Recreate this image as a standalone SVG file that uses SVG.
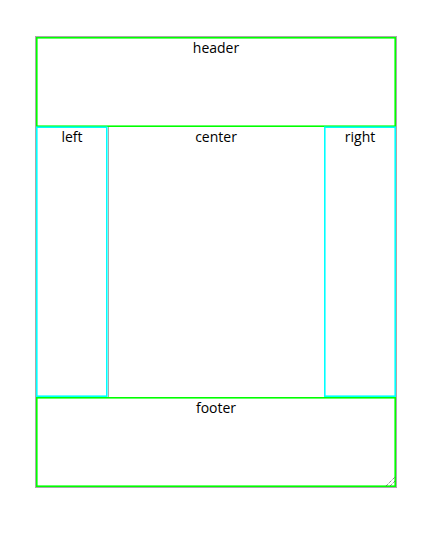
<svg xmlns="http://www.w3.org/2000/svg" width="445" height="533" viewBox="0 0 445 533">
<style>
text{font-family:"Open Sans","Noto Sans","Liberation Sans",sans-serif;font-size:14px;fill:#000;text-anchor:middle}
.g{fill:none;stroke:#00ff00;stroke-width:1.6}
.c{fill:none;stroke:#00ffff;stroke-width:1.6}
.gr{fill:none;stroke:#a9a9a9;stroke-width:1}
</style>
<rect x="0" y="0" width="445" height="533" fill="#fff"/>
<g id="container"><rect class="gr" x="35.5" y="36.5" width="361" height="451"/></g>
<g id="center"><rect class="gr" x="108.5" y="126.5" width="216" height="271"/><text x="216" y="142">center</text></g>
<g id="header"><rect class="g" x="36.8" y="37.8" width="358.4" height="88.4"/><text x="216" y="53">header</text></g>
<g id="left"><rect class="c" x="36.8" y="127.2" width="70" height="269"/><text x="72" y="142">left</text></g>
<g id="right"><rect class="c" x="324.8" y="127.2" width="70.4" height="269"/><text x="360" y="142">right</text></g>
<g id="footer"><rect class="g" x="36.8" y="397.8" width="358.4" height="88.4"/><text x="216" y="413">footer</text>
<g stroke="#555" stroke-width="1" stroke-dasharray="1,1"><line x1="386" y1="486" x2="395" y2="477"/><line x1="390" y1="486" x2="395" y2="481"/></g></g>
<g id="connectors"></g>
</svg>
